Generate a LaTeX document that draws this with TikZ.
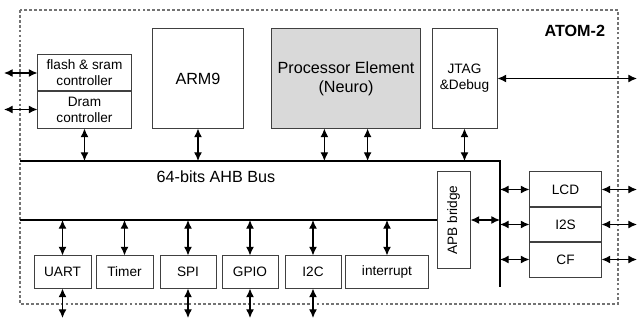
\documentclass[tikz,border=0pt]{standalone}
\usepackage{fontspec}
\setmainfont{Liberation Sans}
\usepackage{graphicx}
\usetikzlibrary{arrows.meta}

\begin{document}
\begin{tikzpicture}[x=0.025cm, y=-0.025cm,
  blk/.style={draw=black!75, line width=0.7pt, inner sep=0pt, align=center, font=\fontsize{9.7}{11.5}\selectfont},
  bigblk/.style={blk, font=\fontsize{11.5}{13.5}\selectfont},
  bus/.style={line width=2pt},
  link/.style={line width=0.8pt, {Latex[length=6.2pt,width=5.6pt]}-{Latex[length=6.2pt,width=5.6pt]}}]
\useasboundingbox (0,0) rectangle (641,320);
\draw[black!55, line width=0.8pt, dash pattern=on 2pt off 1.5pt] (20,10) rectangle (618,304);
\node[blk, minimum width=2.325cm, minimum height=0.9cm] (flash) at (84.5,73) {flash \& sram\\controller};
\node[blk, minimum width=2.325cm, minimum height=0.925cm] (dram) at (84.5,109.5) {Dram\\controller};
\node[bigblk, minimum width=2.25cm, minimum height=2.475cm] (arm) at (198,78.5) {ARM9};
\node[bigblk, fill=black!15, minimum width=3.7cm, minimum height=2.475cm] (pe) at (346,78.5) {Processor Element\\(Neuro)};
\node[blk, minimum width=1.625cm, minimum height=2.475cm] (jtag) at (464.5,78.5) {JTAG\\\&Debug};
\node[anchor=east, font=\bfseries\fontsize{11.5}{13.5}\selectfont] (chip) at (610,30.5) {ATOM-2};
\node[font=\fontsize{11.5}{13.5}\selectfont] (ahb) at (216,177) {64-bits AHB Bus};
\node[blk, minimum width=0.825cm, minimum height=2.4cm] (apb) at (453.5,220) {\rotatebox{90}{APB bridge}};
\node[blk, minimum width=1.425cm, minimum height=0.8cm] (uart) at (62.5,272) {UART};
\node[blk, minimum width=1.425cm, minimum height=0.8cm] (timer) at (124.5,272) {Timer};
\node[blk, minimum width=1.4cm, minimum height=0.8cm] (spi) at (188,272) {SPI};
\node[blk, minimum width=1.4cm, minimum height=0.8cm] (gpio) at (250,272) {GPIO};
\node[blk, minimum width=1.4cm, minimum height=0.8cm] (itc) at (313,272) {I2C};
\node[blk, minimum width=2.05cm, minimum height=0.8cm] (irq) at (387,272) {interrupt};
\node[blk, minimum width=1.775cm, minimum height=0.875cm] (lcd) at (565.5,189.5) {LCD};
\node[blk, minimum width=1.775cm, minimum height=0.875cm] (iis) at (565.5,224.5) {I2S};
\node[blk, minimum width=1.775cm, minimum height=0.875cm] (cf) at (565.5,259.5) {CF};
\coordinate (topbus) at (20,161);
\coordinate (corner) at (500,161);
\coordinate (busend) at (500,287);
\coordinate (lowbus) at (20,220);
\coordinate (edgeL) at (4,0);
\coordinate (edgeR) at (637,0);
\coordinate (edgeB) at (0,318);
\coordinate (pe1) at ([xshift=-0.54cm]pe.south);
\coordinate (pe2) at ([xshift=0.54cm]pe.south);
\draw[bus] (topbus) -- (corner) -- (busend);
\draw[bus] (lowbus) -- (apb.west);
\draw[link] (flash.west) -- (flash.west -| edgeL);
\draw[link] (dram.west) -- (dram.west -| edgeL);
\draw[link] (dram.south) -- (dram.south |- topbus);
\draw[link] (arm.south) -- (arm.south |- topbus);
\draw[link] (pe1) -- (pe1 |- topbus);
\draw[link] (pe2) -- (pe2 |- topbus);
\draw[link] (jtag.south) -- (jtag.south |- topbus);
\draw[link] (jtag.east) -- (jtag.east -| edgeR);
\draw[link] (uart.north |- lowbus) -- (uart.north);
\draw[link] (timer.north |- lowbus) -- (timer.north);
\draw[link] (spi.north |- lowbus) -- (spi.north);
\draw[link] (gpio.north |- lowbus) -- (gpio.north);
\draw[link] (itc.north |- lowbus) -- (itc.north);
\draw[link] (irq.north |- lowbus) -- (irq.north);
\draw[link] (uart.south) -- (uart.south |- edgeB);
\draw[link] (spi.south) -- (spi.south |- edgeB);
\draw[link] (gpio.south) -- (gpio.south |- edgeB);
\draw[link] (itc.south) -- (itc.south |- edgeB);
\draw[link] (apb.east) -- (apb.east -| corner);
\draw[link] (lcd.west -| corner) -- (lcd.west);
\draw[link] (iis.west -| corner) -- (iis.west);
\draw[link] (cf.west -| corner) -- (cf.west);
\draw[link] (lcd.east) -- (lcd.east -| edgeR);
\draw[link] (iis.east) -- (iis.east -| edgeR);
\draw[link] (cf.east) -- (cf.east -| edgeR);
\end{tikzpicture}
\end{document}
